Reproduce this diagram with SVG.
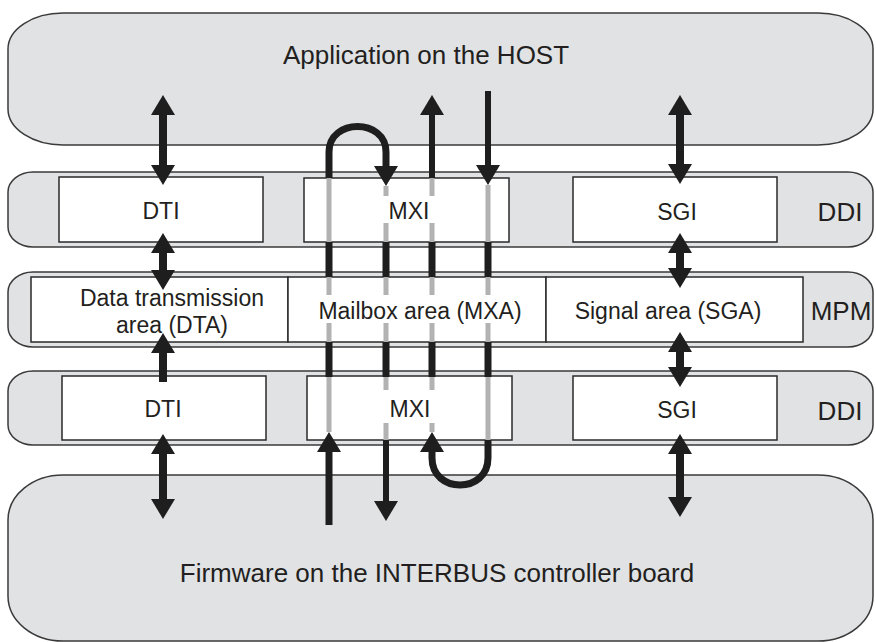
<svg xmlns="http://www.w3.org/2000/svg" width="876" height="642" viewBox="0 0 876 642">
<defs>
<style>
.shape{fill:#e1e2e4;stroke:#3a3a3a;stroke-width:1.5}
.box{fill:#ffffff;stroke:#2a2a2a;stroke-width:1.5}
.t{font-family:"Liberation Sans",Arial,Helvetica,sans-serif;fill:#231f20;text-anchor:middle}
.big{font-size:26px}
.mid{font-size:23px}
.thick{stroke:#1e1e1e;stroke-width:8;fill:none}
.thin{stroke:#1e1e1e;stroke-width:6;fill:none}
.loop{stroke:#1e1e1e;stroke-width:7;fill:none}
.gray{stroke:#b2b2b2;stroke-width:5;fill:none}
</style>
<marker id="ah" markerUnits="userSpaceOnUse" markerWidth="20" markerHeight="24" viewBox="0 -12 20 24" refX="1" refY="0" orient="auto-start-reverse">
<path d="M0,-12 L20,0 L0,12 z" fill="#1e1e1e"/>
</marker>
</defs>
<g id="host">
<rect class="shape" x="8" y="13" width="865" height="132" rx="55" ry="36"/>
<text class="t big" x="426" y="64">Application on the HOST</text>
</g>
<g id="ddi-top">
<rect class="shape" x="8" y="172" width="865" height="75" rx="25" ry="20"/>
<text class="t big" x="840" y="221">DDI</text>
</g>
<g id="mpm">
<rect class="shape" x="8" y="272" width="865" height="75" rx="25" ry="20"/>
<text class="t big" x="841" y="320">MPM</text>
</g>
<g id="ddi-bottom">
<rect class="shape" x="8" y="371" width="865" height="74" rx="25" ry="20"/>
<text class="t big" x="840" y="420">DDI</text>
</g>
<g id="firmware">
<rect class="shape" x="8" y="475" width="865" height="166" rx="55" ry="45"/>
<text class="t big" x="437" y="582">Firmware on the INTERBUS controller board</text>
</g>
<g id="dti-top">
<rect class="box" x="59" y="177" width="204" height="65"/>
<text class="t mid" x="161" y="219">DTI</text>
</g>
<g id="mxi-top">
<rect class="box" x="304" y="178" width="205" height="64"/>
<text class="t mid" x="409" y="219">MXI</text>
</g>
<g id="sgi-top">
<rect class="box" x="573" y="177" width="204" height="65"/>
<text class="t mid" x="677" y="220">SGI</text>
</g>
<g id="dta">
<rect class="box" x="31" y="277" width="257" height="65"/>
<text class="t mid" x="172" y="306">Data transmission</text>
<text class="t mid" x="172" y="333">area (DTA)</text>
</g>
<g id="mxa">
<rect class="box" x="288" y="277" width="258" height="65"/>
<text class="t mid" x="420" y="319">Mailbox area (MXA)</text>
</g>
<g id="sga">
<rect class="box" x="546" y="277" width="257" height="65"/>
<text class="t mid" x="668" y="319">Signal area (SGA)</text>
</g>
<g id="dti-bottom">
<rect class="box" x="62" y="376" width="204" height="64"/>
<text class="t mid" x="163" y="417">DTI</text>
</g>
<g id="mxi-bottom">
<rect class="box" x="307" y="376" width="205" height="64"/>
<text class="t mid" x="410" y="417">MXI</text>
</g>
<g id="sgi-bottom">
<rect class="box" x="573" y="376" width="204" height="64"/>
<text class="t mid" x="677" y="418">SGI</text>
</g>
<g id="connectors">
<!-- DTI column -->
<line class="thick" x1="163" y1="114" x2="163" y2="166" marker-start="url(#ah)" marker-end="url(#ah)"/>
<line class="thick" x1="163" y1="252" x2="163" y2="271" marker-start="url(#ah)" marker-end="url(#ah)"/>
<line class="thick" x1="163" y1="382" x2="163" y2="352" marker-end="url(#ah)"/>
<line class="thick" x1="163" y1="453" x2="163" y2="500" marker-start="url(#ah)" marker-end="url(#ah)"/>
<!-- SGI column -->
<line class="thick" x1="680" y1="114" x2="680" y2="165" marker-start="url(#ah)" marker-end="url(#ah)"/>
<line class="thick" x1="680" y1="252" x2="680" y2="269" marker-start="url(#ah)" marker-end="url(#ah)"/>
<line class="thick" x1="680" y1="351" x2="680" y2="368" marker-start="url(#ah)" marker-end="url(#ah)"/>
<line class="thick" x1="680" y1="453" x2="680" y2="498" marker-start="url(#ah)" marker-end="url(#ah)"/>
<!-- MXI gray pass-throughs -->
<path class="gray" d="M329,178 V242 M386,186 V196 M386,223 V242 M432,178 V196 M432,223 V242 M488,185 V242"/>
<path class="gray" d="M329,277 V295 M329,323 V342 M386,277 V295 M386,323 V342 M432,277 V295 M432,323 V342 M488,277 V295 M488,323 V342"/>
<path class="gray" d="M329,377 V432 M386,377 V390 M386,423 V440 M432,377 V390 M432,423 V432 M488,377 V440"/>
<!-- MXI black segments between layers -->
<path class="loop" d="M329,242 V277 M386,242 V277 M432,242 V277 M488,242 V277 M329,342 V377 M386,342 V377 M432,342 V377 M488,342 V377"/>
<!-- MXI top arrows -->
<path class="loop" d="M329,178 V152 C329,118 386,118 386,152 V167" marker-end="url(#ah)"/>
<line class="thin" x1="432" y1="178" x2="432" y2="114" marker-end="url(#ah)"/>
<line class="thin" x1="488" y1="91" x2="488" y2="166" marker-end="url(#ah)"/>
<!-- MXI bottom arrows -->
<line class="loop" x1="329" y1="525" x2="329" y2="451" marker-end="url(#ah)"/>
<line class="thin" x1="386" y1="440" x2="386" y2="502" marker-end="url(#ah)"/>
<path class="loop" d="M488,440 V458 C488,494 432,494 432,458 V451" marker-end="url(#ah)"/>
</g>
</svg>
